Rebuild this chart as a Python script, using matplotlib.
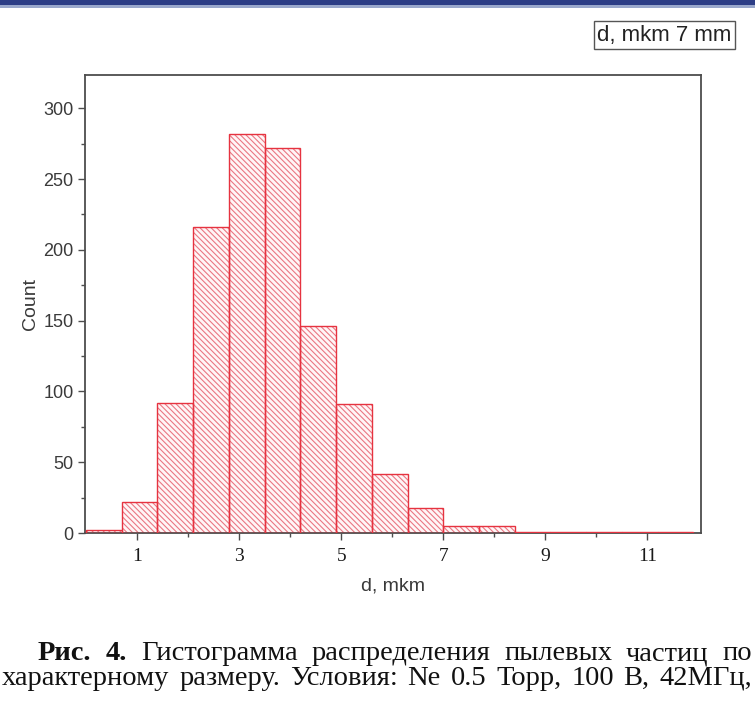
import matplotlib
matplotlib.use("Agg")
import matplotlib.pyplot as plt
from matplotlib.patches import Rectangle
from matplotlib.ticker import FixedLocator

# Histogram of dust particle sizes (bin width 0.7 mkm)
bin_left = [0.0, 0.7, 1.4, 2.1, 2.8, 3.5, 4.2, 4.9, 5.6, 6.3, 7.0, 7.7,
            8.4, 9.1, 9.8, 10.5, 11.2]
bin_width = 0.7
counts = [2, 22, 92, 216, 282, 272, 146, 91, 42, 18, 5, 5, 1, 1, 1, 1, 1]

x_major = [1, 3, 5, 7, 9, 11]
x_minor = [2, 4, 6, 8, 10]
y_major = [0, 50, 100, 150, 200, 250, 300]
y_minor = [25, 75, 125, 175, 225, 275]

legend_text = "d, mkm 7 mm"
x_label = "d, mkm"
y_label = "Count"
caption_bold = "Рис. 4."
caption_line1 = "Гистограмма распределения пылевых частиц по"
caption_line2 = "характерному размеру. Условия: Ne 0.5 Торр, 100 В, 42МГц,"

W, H = 755, 720
fig = plt.figure(figsize=(W / 100, H / 100), dpi=100)
fig.patch.set_facecolor("white")

# header band
fig.patches.append(Rectangle((0, 1 - 5 / H), 1, 5 / H, transform=fig.transFigure,
                             facecolor="#2c3d86", edgecolor="none"))
fig.patches.append(Rectangle((0, 1 - 8 / H), 1, 3 / H, transform=fig.transFigure,
                             facecolor="#9aa8cc", edgecolor="none"))

ax = fig.add_axes([84.5 / W, 1 - 533 / H, (701 - 84.5) / W, (533 - 75) / H])
frame_color = "#4d4d4d"

plt.rcParams["hatch.linewidth"] = 0.8
# hatched fill
ax.bar(bin_left, counts, width=bin_width, align="edge", facecolor="#fff6f7",
       edgecolor="#ea7783", linewidth=0, hatch="\\" * 6, zorder=2)
# bar outlines
ax.bar(bin_left, counts, width=bin_width, align="edge", fill=False,
       edgecolor="#e63340", linewidth=1.0, zorder=3)

ax.set_xlim(-0.03, 12.05)
ax.set_ylim(0, 323.5)

for s in ax.spines.values():
    s.set_color(frame_color)
    s.set_linewidth(1.3)

ax.xaxis.set_major_locator(FixedLocator(x_major))
ax.xaxis.set_minor_locator(FixedLocator(x_minor))
ax.yaxis.set_major_locator(FixedLocator(y_major))
ax.yaxis.set_minor_locator(FixedLocator(y_minor))
ax.tick_params(axis="both", which="major", length=5, width=1.0, color=frame_color,
               direction="out")
ax.tick_params(axis="both", which="minor", length=3, width=1.0, color=frame_color,
               direction="out")
ax.tick_params(axis="y", which="major", labelsize=13, labelcolor="#3a3a3a", pad=3)
ax.tick_params(axis="x", which="major", pad=6)
for lbl in ax.get_xticklabels():
    lbl.set_fontfamily("Liberation Serif")
    lbl.set_fontsize(14)
    lbl.set_color("#1a1a1a")
for lbl in ax.get_yticklabels():
    lbl.set_fontfamily("Liberation Sans")

ax.set_xlabel(x_label, fontfamily="Liberation Sans", fontsize=14, color="#3a3a3a",
              labelpad=9)
ax.set_ylabel(y_label, fontfamily="Liberation Sans", fontsize=14, color="#3a3a3a",
              labelpad=3)

# legend box
fig.text(664.5 / W, 1 - 35 / H, legend_text, fontfamily="Liberation Sans",
         fontsize=16, color="#222222", ha="center", va="center",
         bbox=dict(boxstyle="square,pad=0.14", facecolor="white",
                   edgecolor="#555555", linewidth=1.0))

# caption, justified between the given pixel margins
fig.canvas.draw()
renderer = fig.canvas.get_renderer()
cap_size = 20.5


def justified_line(words, x0, x1, y):
    items = []
    for w, weight in words:
        t = fig.text(0, 1 - y / H, w, fontfamily="Liberation Serif", fontsize=cap_size,
                     fontweight=weight, color="#111111", ha="left", va="baseline")
        items.append((t, t.get_window_extent(renderer).width))
    total = sum(wd for _, wd in items)
    gap = (x1 - x0 - total) / (len(items) - 1)
    x = x0
    for t, wd in items:
        t.set_x(x / W)
        x += wd + gap


words1 = [(w, "bold") for w in caption_bold.split()] + \
         [(w, "normal") for w in caption_line1.split()]
words2 = [(w, "normal") for w in caption_line2.split()]
justified_line(words1, 38, 752, 660)
justified_line(words2, 2, 752, 685)

fig.savefig("out.png", dpi=100, facecolor="white")
